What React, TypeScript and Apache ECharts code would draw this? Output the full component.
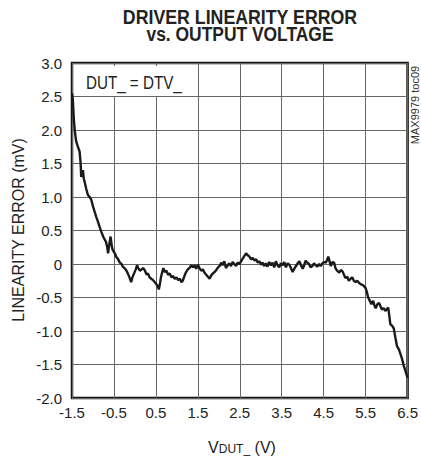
import React, { useEffect, useRef } from "react";
import * as echarts from "echarts";

const voltage = [
  -1.5, -1.48, -1.46, -1.44, -1.42, -1.4, -1.36, -1.32, -1.3, -1.29, -1.28, -1.26, -1.24, -1.22, -1.2, -1.16,
  -1.12, -1.08, -1.04, -1.0, -0.96, -0.92, -0.88, -0.84, -0.8, -0.75, -0.69, -0.66, -0.64, -0.61, -0.58, -0.55,
  -0.53, -0.48, -0.44, -0.41, -0.36, -0.32, -0.29, -0.25, -0.2, -0.17, -0.13, -0.09, -0.06, -0.02, 0.02, 0.05,
  0.08, 0.12, 0.16, 0.2, 0.24, 0.28, 0.31, 0.35, 0.39, 0.43, 0.47, 0.51, 0.55, 0.57, 0.6, 0.62, 0.65, 0.68,
  0.71, 0.75, 0.79, 0.83, 0.87, 0.91, 0.95, 0.99, 1.03, 1.07, 1.11, 1.14, 1.18, 1.22, 1.26, 1.3, 1.34, 1.38,
  1.42, 1.46, 1.5, 1.54, 1.58, 1.62, 1.66, 1.7, 1.74, 1.78, 1.82, 1.86, 1.9, 1.94, 1.98, 2.02, 2.06, 2.09,
  2.13, 2.17, 2.21, 2.25, 2.29, 2.33, 2.37, 2.41, 2.45, 2.49, 2.53, 2.57, 2.61, 2.65, 2.69, 2.73, 2.77, 2.81,
  2.85, 2.89, 2.93, 2.97, 3.01, 3.04, 3.08, 3.12, 3.16, 3.2, 3.24, 3.28, 3.32, 3.36, 3.4, 3.44, 3.48, 3.52,
  3.56, 3.6, 3.64, 3.68, 3.72, 3.76, 3.8, 3.84, 3.88, 3.92, 3.96, 4.0, 4.04, 4.07, 4.11, 4.15, 4.19, 4.23,
  4.27, 4.31, 4.35, 4.39, 4.43, 4.47, 4.51, 4.55, 4.58, 4.61, 4.64, 4.67, 4.71, 4.75, 4.78, 4.82, 4.87, 4.91,
  4.95, 4.99, 5.02, 5.06, 5.1, 5.14, 5.18, 5.22, 5.26, 5.3, 5.34, 5.38, 5.42, 5.46, 5.5, 5.53, 5.56, 5.6,
  5.64, 5.68, 5.71, 5.74, 5.78, 5.82, 5.86, 5.89, 5.93, 5.97, 6.01, 6.04, 6.07, 6.09, 6.13, 6.17, 6.21, 6.25,
  6.29, 6.33, 6.37, 6.41, 6.45, 6.5,
];

const linearityError = [
  2.55, 2.45, 2.2, 2.03, 1.92, 1.83, 1.75, 1.68, 1.55, 1.45, 1.3, 1.36, 1.4, 1.28, 1.23, 1.12,
  1.03, 1.0, 0.96, 0.86, 0.78, 0.7, 0.63, 0.55, 0.48, 0.4, 0.33, 0.25, 0.16, 0.3, 0.41, 0.26,
  0.21, 0.16, 0.1, 0.08, 0.02, 0.0, -0.04, -0.06, -0.1, -0.14, -0.2, -0.27, -0.2, -0.14, -0.08, -0.02,
  -0.06, -0.1, -0.08, -0.06, -0.1, -0.16, -0.14, -0.2, -0.22, -0.24, -0.27, -0.3, -0.34, -0.38, -0.28, -0.2, -0.12, -0.06,
  -0.12, -0.1, -0.16, -0.14, -0.2, -0.18, -0.22, -0.2, -0.24, -0.22, -0.27, -0.25, -0.18, -0.12, -0.08, -0.06, -0.02, -0.05,
  -0.02, -0.07, -0.01, -0.06, -0.1, -0.08, -0.13, -0.16, -0.19, -0.22, -0.17, -0.14, -0.12, -0.09, -0.05, -0.03, 0.02, -0.02,
  0.04, -0.06, -0.02, 0.01, -0.03, 0.03, 0.0, -0.03, 0.02, 0.0, 0.04, 0.08, 0.12, 0.16, 0.13, 0.11, 0.07, 0.09,
  0.05, 0.07, 0.02, 0.04, -0.01, 0.02, -0.03, 0.01, -0.04, 0.03, -0.02, 0.02, -0.05, 0.04, -0.02, -0.05, 0.01, -0.02,
  0.03, -0.05, 0.01, -0.01, -0.06, -0.12, -0.07, -0.03, 0.01, 0.04, -0.02, -0.07, -0.01, 0.05, 0.02, 0.0, -0.05, -0.03,
  0.01, -0.02, -0.04, 0.0, -0.03, 0.01, 0.03, 0.02, 0.06, 0.11, 0.04, -0.03, 0.03, 0.02, -0.06, -0.1, -0.13, -0.09,
  -0.11, -0.17, -0.21, -0.19, -0.25, -0.22, -0.2, -0.25, -0.27, -0.25, -0.28, -0.3, -0.31, -0.33, -0.36, -0.42, -0.5, -0.55,
  -0.6, -0.55, -0.62, -0.66, -0.6, -0.58, -0.64, -0.68, -0.66, -0.7, -0.67, -0.65, -0.8, -0.9, -0.92, -0.96, -1.1, -1.23,
  -1.27, -1.34, -1.42, -1.52, -1.6, -1.7,
];

const titleLines = ["DRIVER LINEARITY ERROR", "vs. OUTPUT VOLTAGE"];
const yAxisTitle = "LINEARITY ERROR (mV)";
const annotation = "DUT_ = DTV_";
const docId = "MAX9979 toc09";

const FONT = '"Liberation Sans", Arial, Helvetica, sans-serif';

export default function App() {
  const ref = useRef<HTMLDivElement>(null);
  useEffect(() => {
    if (!ref.current) return;
    const chart = echarts.init(ref.current, undefined, { renderer: "svg" });
    const data = voltage.map((v, i) => [v, linearityError[i]]);
    const titleStyle = {
      x: 0,
      y: 0,
      align: "center",
      verticalAlign: "middle",
      fontSize: 21,
      fontWeight: "bold",
      fontFamily: FONT,
      fill: "#222",
    };
    chart.setOption({
      animation: false,
      backgroundColor: "#fff",
      grid: {
        left: 72,
        right: 12,
        top: 63,
        bottom: 59,
        show: true,
        borderColor: "#111",
        borderWidth: 2.5,
        backgroundColor: "transparent",
      },
      xAxis: {
        type: "value",
        min: -1.5,
        max: 6.5,
        interval: 1,
        axisLine: { show: false },
        axisTick: { show: false },
        splitLine: { show: true, lineStyle: { color: "#666", width: 1 } },
        axisLabel: {
          margin: 7,
          fontSize: 15,
          color: "#222",
          fontFamily: FONT,
          formatter: (v: number) => v.toFixed(1),
        },
      },
      yAxis: {
        type: "value",
        min: -2,
        max: 3,
        interval: 0.5,
        axisLine: { show: false },
        axisTick: { show: false },
        splitLine: { show: true, lineStyle: { color: "#666", width: 1 } },
        axisLabel: {
          margin: 10,
          fontSize: 15,
          color: "#222",
          fontFamily: FONT,
          formatter: (v: number) => (Math.abs(v) < 1e-9 ? "0" : v.toFixed(1)),
        },
      },
      series: [
        {
          type: "line",
          data,
          showSymbol: false,
          lineStyle: { color: "#1a1a1a", width: 2.4 },
          z: 3,
        },
      ],
      graphic: [
        {
          type: "text",
          x: 240,
          y: 16,
          scaleX: 0.845,
          style: { ...titleStyle, text: titleLines[0] },
        },
        {
          type: "text",
          x: 240,
          y: 34,
          scaleX: 0.83,
          style: { ...titleStyle, text: titleLines[1] },
        },
        {
          type: "rect",
          shape: { x: 80, y: 66, width: 104, height: 30 },
          style: { fill: "#fff" },
          z: 10,
        },
        {
          type: "text",
          z: 11,
          x: 86,
          y: 82,
          scaleX: 0.8,
          style: {
            text: annotation,
            x: 0,
            y: 0,
            align: "left",
            verticalAlign: "middle",
            fontSize: 19,
            fontFamily: FONT,
            fill: "#222",
          },
        },
        {
          type: "text",
          x: 18,
          y: 230,
          rotation: Math.PI / 2,
          style: {
            text: yAxisTitle,
            x: 0,
            y: 0,
            align: "center",
            verticalAlign: "middle",
            fontSize: 16,
            fontFamily: FONT,
            fill: "#222",
          },
        },
        {
          type: "text",
          x: 415,
          y: 105,
          rotation: Math.PI / 2,
          style: {
            text: docId,
            x: 0,
            y: 0,
            align: "center",
            verticalAlign: "middle",
            fontSize: 11,
            fontFamily: FONT,
            fill: "#333",
          },
        },
        {
          type: "text",
          x: 242,
          y: 446,
          style: {
            text: "{a|V}{b|DUT_}{a| (V)}",
            x: 0,
            y: 0,
            align: "center",
            verticalAlign: "middle",
            fontFamily: FONT,
            fill: "#222",
            rich: {
              a: { fontSize: 16, fontFamily: FONT, fill: "#222", verticalAlign: "bottom", lineHeight: 18 },
              b: { fontSize: 12, fontFamily: FONT, fill: "#222", verticalAlign: "bottom", lineHeight: 14 },
            },
          },
        },
      ],
    });
    return () => chart.dispose();
  }, []);
  return <div ref={ref} style={{ width: 421, height: 457, position: "absolute", left: 0, top: 0 }} />;
}
